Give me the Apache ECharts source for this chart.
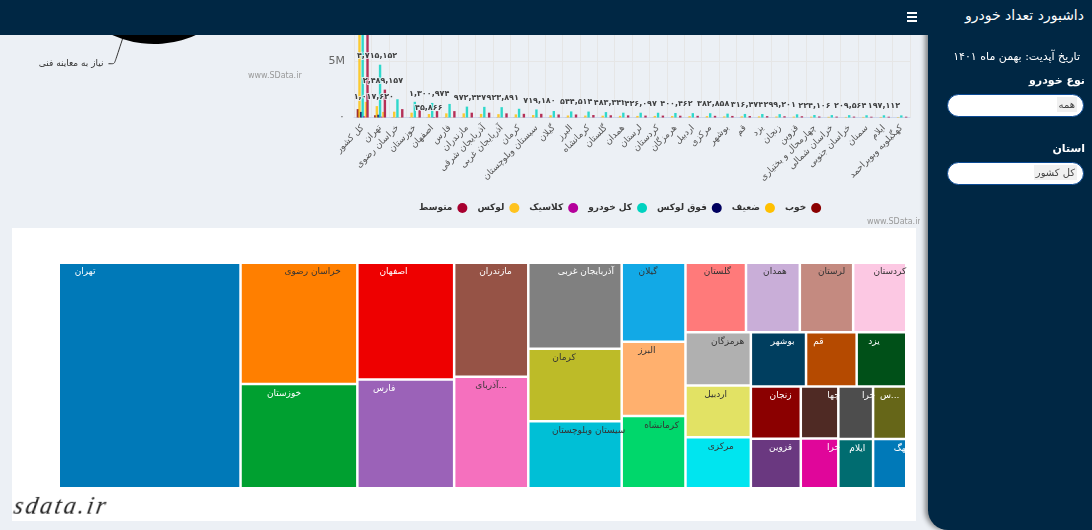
<!DOCTYPE html>
<html lang="fa">
<head>
    <meta charset="UTF-8">
    <title>داشبورد تعداد خودرو</title>
    <script src="https://cdn.jsdelivr.net/npm/echarts@6/dist/echarts.min.js"></script>
    <style>
        html, body { margin: 0; padding: 0; width: 1092px; height: 530px; overflow: hidden; background: #ecf0f5; font-family: "DejaVu Sans", sans-serif; }
        #topChart { position: absolute; left: 0; top: 0; width: 920px; height: 228px; }
        #treeCard { position: absolute; left: 12px; top: 228px; width: 904px; height: 293px; background: #fff; }
        #treeChart { width: 904px; height: 293px; }
        #navbar { position: absolute; left: 0; top: 0; width: 1092px; height: 35px; background: #002744; z-index: 5; }
        #burger { position: absolute; left: 907px; top: 12px; width: 10px; height: 2px; background: #fff; box-shadow: 0 4px 0 #fff, 0 8px 0 #fff; }
        #sidebar { position: absolute; left: 928px; top: 0; width: 164px; height: 530px; background: #002744; border-bottom-left-radius: 20px; box-shadow: -3px 0 5px rgba(0,0,0,.45); z-index: 4; color: #fff; direction: rtl; }
        #brand { position: absolute; right: 8px; top: 7px; font-size: 14px; color: #fff; white-space: nowrap; z-index: 6; direction: rtl; }
        .side { position: absolute; right: 7px; white-space: nowrap; font-size: 11px; }
        .pill { position: absolute; left: 19px; width: 135px; height: 21px; background: #fff; border: 1.5px solid #0b4a94; border-radius: 12px; }
        .pill span { position: absolute; right: 6px; top: 2px; padding: 0 2px; font-size: 10px; line-height: 15px; color: #444; background: #f0f0f0; }
        #sign { position: absolute; left: 14px; top: 493px; font: italic 24px "Liberation Serif", serif; letter-spacing: 2.5px; color: #222; transform: skewX(-10deg); }
    </style>
</head>
<body>
    <div id="topChart"></div>
    <div id="treeCard"><div id="treeChart"></div></div>
    <div id="sign">sdata.ir</div>
    <div id="navbar"><div id="burger"></div></div>
    <div id="brand">داشبورد تعداد خودرو</div>
    <div id="sidebar">
        <div class="side" style="top:50px;right:12px;font-size:11px;">تاریخ آپدیت: بهمن ماه ۱۴۰۱</div>
        <div class="side" style="top:74px;font-weight:bold;">نوع خودرو</div>
        <div class="pill" style="top:94px;"><span>همه</span></div>
        <div class="side" style="top:142px;font-weight:bold;">استان</div>
        <div class="pill" style="top:162px;"><span>کل کشور</span></div>
    </div>

    <script>
        // provinces, in the order of the bar chart
        var provinces = ['کل کشور', 'تهران', 'خراسان رضوی', 'خوزستان', 'اصفهان', 'فارس', 'مازندران', 'آذربایجان شرقی', 'آذربایجان غربی', 'کرمان', 'سیستان وبلوچستان', 'گیلان', 'البرز', 'کرمانشاه', 'گلستان', 'همدان', 'لرستان', 'کردستان', 'هرمزگان', 'اردبیل', 'مرکزی', 'بوشهر', 'قم', 'یزد', 'زنجان', 'قزوین', 'چهارمحال و بختیاری', 'خراسان شمالی', 'خراسان جنوبی', 'سمنان', 'ایلام', 'کهگیلویه وبویراحمد'];

        // series values
        var khoob = [750000, 200000, 15000, 12000, 10000, 10000, 8000, 8000, 8000, 6000, 6000, 6000, 6000, 5000, 5000, 5000, 4000, 4000, 4000, 3000, 3000, 3000, 3000, 3000, 2000, 2000, 2000, 2000, 1000, 1000, 1000, 1000];
        var zaif = [8000000, 1017620, 520000, 430000, 310000, 370000, 370000, 320000, 300000, 280000, 220000, 200000, 180000, 170000, 160000, 150000, 140000, 140000, 130000, 120000, 120000, 100000, 100000, 100000, 90000, 80000, 70000, 60000, 50000, 50000, 50000, 40000];
        var foghLuxury = [500000, 250000, 10000, 8000, 8000, 6000, 5000, 5000, 5000, 4000, 4000, 3000, 4000, 3000, 3000, 3000, 2000, 2000, 2000, 2000, 2000, 2000, 2000, 2000, 1000, 1000, 1000, 1000, 1000, 1000, 1000, 1000];
        var total = [21500000, 4715152, 1630000, 1400000, 1300974, 1210000, 972447, 950000, 923891, 780000, 719180, 580000, 544514, 530000, 483344, 430000, 426097, 424000, 400462, 390000, 382858, 345000, 316474, 310000, 299201, 285000, 224106, 215000, 209564, 200000, 197112, 188000];
        var classic = [120000, 80000, 10000, 8000, 45866, 6000, 5000, 5000, 5000, 4000, 4000, 3000, 3000, 3000, 3000, 2000, 2000, 2000, 2000, 2000, 2000, 2000, 2000, 1000, 1000, 1000, 1000, 1000, 1000, 1000, 1000, 1000];
        var luxury = [1400000, 500000, 30000, 25000, 25000, 20000, 15000, 15000, 15000, 15000, 12000, 10000, 12000, 8000, 8000, 8000, 6000, 6000, 6000, 5000, 5000, 5000, 5000, 4000, 4000, 4000, 3000, 3000, 3000, 2000, 2000, 2000];
        var medium = [10000000, 2489157, 750000, 660000, 570000, 570000, 430000, 430000, 370000, 330000, 330000, 270000, 270000, 220000, 200000, 190000, 170000, 170000, 160000, 150000, 150000, 140000, 130000, 120000, 110000, 110000, 90000, 80000, 80000, 70000, 70000, 70000];
        var inspectionShare = [100];

        var seriesNames = ['خوب', 'ضعیف', 'فوق لوکس', 'کل خودرو', 'کلاسیک', 'لوکس', 'متوسط'];
        var seriesValues = [khoob, zaif, foghLuxury, total, classic, luxury, medium];
        var seriesColors = ['#8b0000', '#ffc000', '#00005f', '#00d2c0', '#b5009b', '#ffc31f', '#a8002f'];

        // which bars carry a label: series index, province index, horizontal nudge
        var barLabels = [
            [1, 1, -3], [3, 1, -3], [6, 1, -2], [4, 4, -5], [3, 4, -3], [3, 6, 3], [3, 8, 1], [3, 10, 3], [3, 12, 5], [3, 14, 4],
            [3, 16, 0], [3, 18, 1], [3, 20, 3], [3, 22, 2], [3, 24, 0], [3, 26, 0], [3, 28, 1], [3, 30, 0]
        ];

        function persianNumber(v) {
            return String(v).replace(/\B(?=(\d{3})+(?!\d))/g, ',').replace(/\d/g, function (d) {
                return '۰۱۲۳۴۵۶۷۸۹'[d];
            });
        }

        var barSeries = seriesNames.map(function (name, s) {
            var data = seriesValues[s].map(function (v, i) {
                var hit = barLabels.filter(function (b) { return b[0] === s && b[1] === i; })[0];
                if (!hit) return v;
                return { value: v, label: { show: true, offset: [hit[2], 0] } };
            });
            return {
                name: name,
                type: 'bar',
                barWidth: 2.4,
                barGap: '-33%',
                itemStyle: { color: seriesColors[s], opacity: 0.8 },
                label: {
                    show: false,
                    position: 'top',
                    distance: 5,
                    color: '#111',
                    fontSize: 8,
                    fontWeight: 'bold',
                    fontFamily: 'DejaVu Sans',
                    textBorderColor: '#ecf0f5',
                    textBorderWidth: 2,
                    formatter: function (p) { return persianNumber(p.value); }
                },
                data: data
            };
        });

        var topChart = echarts.init(document.getElementById('topChart'));
        topChart.setOption({
            animation: false,
            textStyle: { fontFamily: 'DejaVu Sans' },
            grid: { left: 354, right: 10, top: 5, bottom: 110.5 },
            legend: {
                data: seriesNames.slice().reverse(),
                left: 414,
                top: 198,
                icon: 'circle',
                align: 'right',
                itemWidth: 10,
                itemHeight: 10,
                itemGap: 10,
                itemStyle: { opacity: 1 },
                textStyle: { color: '#333', fontSize: 9, fontWeight: 'bold' }
            },
            graphic: [
                { type: 'text', left: 248, top: 72, style: { text: 'www.SData.ir', fill: '#999', fontSize: 8, fontFamily: 'DejaVu Sans' } },
                { type: 'text', left: 867, top: 218, style: { text: 'www.SData.ir', fill: '#999', fontSize: 8, fontFamily: 'DejaVu Sans' } }
            ],
            xAxis: {
                type: 'category',
                data: provinces,
                axisTick: { show: false },
                axisLine: { lineStyle: { color: '#ccd6eb' } },
                splitLine: { show: true, lineStyle: { color: '#e6e6e6' } },
                axisLabel: { interval: 0, rotate: 45, fontSize: 9, margin: 9, color: '#555' }
            },
            yAxis: {
                type: 'value',
                min: 0,
                max: 10000000,
                interval: 5000000,
                axisLine: { show: false },
                axisTick: { show: false },
                splitLine: { lineStyle: { color: '#e6e6e6' } },
                axisLabel: {
                    fontSize: 11,
                    margin: 9,
                    color: '#666',
                    formatter: function (v) { return v === 0 ? '۰' : (v / 1000000) + 'M'; }
                }
            },
            series: barSeries.concat([{
                type: 'pie',
                center: [154, -58],
                radius: [0, 102],
                startAngle: 72,
                avoidLabelOverlap: false,
                itemStyle: { color: '#000' },
                label: { color: '#333', fontSize: 9, formatter: '{b}' },
                labelLine: { length: 26, length2: 6, smooth: 0.2, lineStyle: { color: '#333', width: 1 } },
                data: [{ name: 'نیاز به معاینه فنی', value: inspectionShare[0] }]
            }])
        });

        // treemap: the provinces without the country total
        var treeColors = ['#0079b8', '#ff7f00', '#00a030', '#ee0000', '#9b62b8', '#965346', '#f570be', '#808080', '#bdbb28', '#00bfd6', '#12a9e6', '#ffb06e', '#00d76b', '#ff7a7a', '#c9aed8', '#c48a80', '#fcc8e3', '#b0b0b0', '#e2e264', '#00e5ef', '#003e5f', '#b54a00', '#005018', '#8b0000', '#6a3880', '#4f2a24', '#e0069a', '#4d4d4d', '#666618', '#006c70', '#0079b8'];
        var treeLabelX = [14, 62, 37, 37, 27, 56, 50, 62, 38, 65, 41, 39, 63, 53, 54, 60, 70, 65, 46, 54, 58, 23, 34, 60, 60, 90, 90, 90, 50, 55, 90];
        var darkLabel = ['خراسان رضوی', 'آذربایجان شرقی', 'کرمان', 'سیستان وبلوچستان', 'گیلان', 'البرز', 'کرمانشاه', 'گلستان', 'همدان', 'لرستان', 'کردستان', 'هرمزگان', 'اردبیل', 'مرکزی'];

        var treeData = provinces.slice(1).map(function (name, i) {
            var label = {
                position: [treeLabelX[i] + '%', 8],
                align: 'center',
                verticalAlign: 'middle',
                color: darkLabel.indexOf(name) >= 0 ? '#333' : '#fff'
            };
            if (treeLabelX[i] >= 90) {
                label.width = 6;
                label.overflow = 'truncate';
                label.ellipsis = '';
            }
            return { name: name, value: total[i + 1], itemStyle: { color: treeColors[i] }, label: label };
        });

        var treeChart = echarts.init(document.getElementById('treeChart'));
        treeChart.setOption({
            animation: false,
            series: [{
                type: 'treemap',
                left: 48,
                top: 36,
                width: 845,
                height: 223,
                roam: false,
                nodeClick: false,
                breadcrumb: { show: false },
                squareRatio: 0.98,
                sort: 'desc',
                label: { fontSize: 9, fontFamily: 'DejaVu Sans' },
                levels: [{ itemStyle: { gapWidth: 2.5, borderWidth: 0 } }],
                data: treeData
            }]
        });
    </script>
</body>
</html>
